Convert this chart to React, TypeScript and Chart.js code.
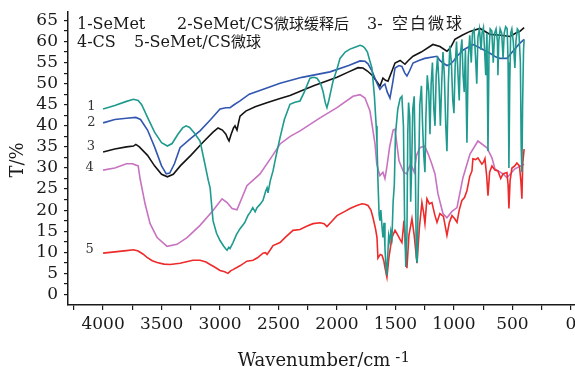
import React, { useEffect, useRef } from "react";
import { Chart, registerables } from "chart.js";
Chart.register(...registerables);

// ---- data: [wavenumber (cm-1), transmittance T (%)] ----
const semet: number[][] = [
  [4000,44],[3900,44.8],[3800,45.8],[3740,46.3],[3700,46],[3670,45],[3620,42],[3560,38.5],[3500,36],[3450,35.2],[3410,35.8],[3360,38],[3320,39.5],[3290,40],[3260,39.6],[3220,38.3],[3171,36.4],[3130,31],[3100,27],[3085,25.3],[3060,17.5],[3030,14.5],[3000,12.8],[2970,11.5],[2950,10.8],[2940,10.5],[2925,11.2],[2915,10.9],[2889,12.3],[2860,14.2],[2829,15.6],[2790,17],[2760,18.8],[2744,19.4],[2720,20.6],[2700,19.6],[2684,20.6],[2660,21.3],[2633,22.3],[2610,24.5],[2598,25.3],[2590,24.1],[2570,27],[2547,29.3],[2520,33],[2487,37.2],[2450,41.5],[2402,45.1],[2360,45.6],[2316,45.9],[2280,48],[2231,51.3],[2200,51.5],[2171,51.3],[2140,50],[2120,48.2],[2100,45.5],[2086,44.3],[2070,46],[2034,50.6],[2000,53.5],[1974,56],[1930,57.5],[1889,58.2],[1840,58.7],[1803,59.1],[1780,58.9],[1761,58.4],[1740,57.5],[1720,55.5],[1701,53.7],[1680,47],[1665,40],[1658,36],[1650,27],[1640,19],[1633,17.5],[1625,20],[1615,16],[1607,13.5],[1598,17],[1590,11],[1580,6],[1575,4.5],[1568,8],[1558,14],[1548,12.5],[1540,15],[1530,13.5],[1520,22],[1510,26],[1500,38],[1480,44],[1460,46.5],[1445,47],[1432,40],[1422,18],[1412,6.5],[1402,14],[1395,38],[1388,45.5],[1378,42],[1370,22],[1362,30],[1352,44],[1340,47],[1330,30],[1322,9],[1314,7.5],[1305,24],[1292,45],[1278,49.5],[1268,40],[1258,33],[1248,29],[1240,42],[1228,52],[1215,48],[1205,38],[1195,50],[1184,55],[1172,44],[1162,40],[1152,52],[1140,56.5],[1128,50],[1116,40],[1105,50],[1094,57.5],[1082,52],[1070,40],[1060,34],[1048,50],[1035,59],[1022,55],[1010,46],[1000,43],[990,54],[978,60],[965,52],[955,46],[945,57],[932,60.5],[922,52],[912,48],[902,58],[889,36],[878,56],[865,61.5],[852,55],[842,62],[828,62.8],[815,56],[805,50],[795,61],[782,63],[768,58],[760,62],[748,63.3],[738,58],[728,52],[718,62],[709,34],[700,58],[690,63],[676,62.5],[664,55],[652,62],[640,63],[628,60],[624,52],[617,60],[605,63],[592,62],[580,56],[570,62],[558,63.5],[545,63],[537,55],[530,30],[523,50],[515,62],[505,63],[493,60],[479,53.7],[470,60],[458,63],[445,62.5],[432,55],[425,35],[419,29],[413,45],[405,58],[400,60.5]
];

const semetCsRelease: number[][] = [
  [4000,40.7],[3900,41.5],[3800,41.8],[3720,42],[3680,41.5],[3620,39],[3560,35],[3500,30.5],[3460,28.6],[3430,28.8],[3390,31],[3342,34.8],[3250,37],[3171,38.8],[3080,41.5],[3000,44],[2950,44.3],[2915,44.3],[2880,45],[2829,45.9],[2750,47.5],[2600,49],[2487,50.1],[2300,51.5],[2060,52.8],[1900,54.3],[1803,55.4],[1760,55.3],[1735,54.7],[1700,53],[1658,50.1],[1633,48.7],[1610,49.5],[1590,49.9],[1570,48],[1547,46.6],[1525,50],[1504,53.7],[1470,54.3],[1445,54.1],[1420,52.5],[1402,51.8],[1380,53],[1350,54.9],[1300,55.5],[1250,56],[1145,56.5],[1120,55.5],[1094,54.9],[1060,54.3],[1034,54.6],[1000,55.5],[974,56.5],[920,58],[838,59.3],[780,58.5],[692,57.2],[640,56.3],[607,56],[547,56],[496,57.7],[440,59.5],[400,60.5]
];

const blankMicro: number[][] = [
  [4000,33.8],[3900,34.5],[3800,35],[3740,35.2],[3720,35.6],[3690,35],[3620,33],[3560,30.5],[3500,28.5],[3450,27.9],[3400,28.5],[3340,30.5],[3250,33],[3150,36],[3060,38.5],[3017,39.5],[2980,39],[2950,38],[2935,37],[2923,36.4],[2905,38],[2885,39.5],[2872,40],[2855,39],[2840,41],[2829,42.3],[2780,43.5],[2700,44.5],[2600,45.5],[2487,46.5],[2402,47.2],[2200,49.5],[2000,51.5],[1900,52.8],[1820,53.8],[1778,53.7],[1740,53],[1700,52],[1660,50.5],[1633,49.4],[1607,51.3],[1585,50.8],[1564,50.6],[1530,53],[1504,54.9],[1460,55.5],[1419,54.6],[1390,55.5],[1350,56.5],[1280,57.5],[1180,59.3],[1120,58.8],[1060,57.7],[1030,58.5],[992,60.5],[930,61.5],[863,62.4],[778,63.1],[740,62.5],[692,61.7],[600,61.5],[521,61.2],[470,62],[436,62.4],[400,63.3]
];

const cs: number[][] = [
  [4000,29.5],[3900,30],[3800,31],[3750,31],[3700,30.5],[3684,27.5],[3641,21.5],[3598,16.8],[3538,13.5],[3453,11.4],[3368,11.9],[3282,13.5],[3171,16.4],[3060,19.9],[2983,22.7],[2940,21.8],[2897,20.4],[2855,20.1],[2770,25.8],[2658,28.6],[2550,33],[2487,35.7],[2400,37.5],[2316,38.8],[2145,41.9],[2000,44.3],[1863,47],[1803,47.4],[1761,46.6],[1718,43.5],[1675,35.7],[1660,31],[1645,29.3],[1633,28.2],[1607,29],[1590,27.5],[1575,30],[1550,35],[1520,39],[1504,39.2],[1470,31.7],[1430,29],[1405,28.6],[1370,31],[1340,29],[1320,33],[1291,34.8],[1250,35.2],[1220,33.3],[1190,31],[1162,28.6],[1137,23.9],[1094,19.2],[1060,18.2],[1017,19.7],[974,20.6],[950,24],[923,27.7],[863,33.3],[795,36.4],[718,34.8],[675,32.4],[650,29.8],[581,28.6],[547,27.7],[479,29.8],[400,30.9]
];

const semetCs: number[][] = [
  [4000,9.8],[3900,10.1],[3800,10.4],[3740,10.6],[3700,10.3],[3660,9.6],[3624,8.8],[3580,8],[3538,7.6],[3480,7.2],[3427,7.1],[3342,7.4],[3231,8.1],[3171,8.1],[3120,7.7],[3085,7.1],[3040,6.4],[3000,5.7],[2960,5.4],[2932,5],[2910,5.6],[2889,5.9],[2830,6.8],[2770,7.9],[2718,8.1],[2680,8.7],[2633,9.8],[2610,9.9],[2598,9.5],[2570,10.6],[2547,11.6],[2487,12.3],[2440,13.6],[2376,15.2],[2316,15.4],[2260,16.2],[2205,16.8],[2145,17],[2110,16.8],[2086,16.1],[2040,17.5],[2000,18.7],[1940,19.6],[1889,20.4],[1830,21.1],[1786,21.5],[1760,21.4],[1735,21.1],[1710,20],[1692,18.2],[1670,15.5],[1658,13.5],[1650,8.6],[1630,9.5],[1615,9.3],[1600,8],[1590,6.4],[1573,4.1],[1555,9],[1530,13.5],[1504,15.2],[1479,14],[1460,13],[1445,12.3],[1427,17.5],[1415,12],[1402,6.2],[1385,14],[1359,18],[1340,14],[1316,7.4],[1295,16],[1274,21.8],[1260,19.5],[1248,16.8],[1231,22.7],[1210,21.5],[1188,21.8],[1165,19],[1145,17.1],[1120,19.2],[1090,18.5],[1060,14],[1040,17],[1017,18.7],[995,18],[974,17.1],[955,20],[932,22.3],[910,23],[889,24.6],[865,28],[846,29.3],[838,32.2],[815,32],[795,32.4],[775,31.5],[761,30.9],[745,31.5],[735,32.2],[720,28],[709,23.4],[695,29],[675,30.5],[650,29.5],[624,29.3],[600,27.5],[581,28.6],[560,28.8],[547,28.9],[537,26],[530,20.4],[520,27],[504,30],[480,30.5],[462,31.2],[440,30.5],[428,27],[419,22.7],[412,31],[400,34.5]
];

const xTickValues = [0,250,500,750,1000,1250,1500,1750,2000,2250,2500,2750,3000,3250,3500,3750,4000,4250];
const yTickValues = [0,2.5,5,7.5,10,12.5,15,17.5,20,22.5,25,27.5,30,32.5,35,37.5,40,42.5,45,47.5,50,52.5,55,57.5,60,62.5,65];

const curveLabels = [
  { text: "1", x: 4100, y: 44.5 },
  { text: "2", x: 4100, y: 40.7 },
  { text: "3", x: 4105, y: 35 },
  { text: "4", x: 4115, y: 30.1 },
  { text: "5", x: 4115, y: 10.6 },
];

const colors = {
  teal: "#1f9a8f",
  blue: "#3257b0",
  black: "#141414",
  pink: "#c773c0",
  red: "#ee2a2a",
};

const SERIF = "'DejaVu Serif', serif";
const CJK = "'Noto Sans CJK SC', sans-serif";

function drawMixed(ctx: CanvasRenderingContext2D, text: string, x: number, y: number, size: number, cjkSize: number, cjkSpacing = 0) {
  let cx = x;
  for (const ch of text) {
    const isCjk = ch.charCodeAt(0) > 0x2e80;
    ctx.font = isCjk ? `${cjkSize}px ${CJK}` : `${size}px ${SERIF}`;
    ctx.fillText(ch, cx, y);
    cx += ctx.measureText(ch).width + (isCjk ? cjkSpacing : 0);
  }
  return cx;
}

const textPlugin = {
  id: "texts",
  afterDraw(chart: any) {
    const ctx: CanvasRenderingContext2D = chart.ctx;
    const xs = chart.scales.x;
    const ys = chart.scales.y;
    ctx.save();
    ctx.fillStyle = "#1a1a1a";
    ctx.textAlign = "left";
    ctx.textBaseline = "alphabetic";
    // legend lines
    drawMixed(ctx, "1-SeMet", 77, 29, 16, 15);
    drawMixed(ctx, "2-SeMet/CS微球缓释后", 177, 29, 16, 15);
    drawMixed(ctx, "3-", 367, 29, 16, 15);
    drawMixed(ctx, "空白微球", 392, 29, 16, 16, 2);
    drawMixed(ctx, "4-CS", 77, 47, 16, 15);
    drawMixed(ctx, "5-SeMet/CS微球", 134, 47, 16, 15);

    // curve numbers
    ctx.font = `13px ${SERIF}`;
    ctx.textAlign = "center";
    ctx.textBaseline = "middle";
    ctx.fillStyle = "#333";
    for (const l of curveLabels) {
      ctx.fillText(l.text, xs.getPixelForValue(l.x), ys.getPixelForValue(l.y));
    }

    // y title
    ctx.fillStyle = "#1a1a1a";
    ctx.save();
    ctx.translate(18, 160);
    ctx.rotate(-Math.PI / 2);
    ctx.font = `18px ${SERIF}`;
    ctx.textAlign = "center";
    ctx.textBaseline = "middle";
    ctx.fillText("T/%", 0, 0);
    ctx.restore();

    // x title
    ctx.textAlign = "left";
    ctx.textBaseline = "alphabetic";
    ctx.font = `18px ${SERIF}`;
    const main = "Wavenumber/cm";
    const w = ctx.measureText(main).width;
    const left = 314 - w / 2;
    ctx.fillText(main, left, 366);
    ctx.font = `15px ${SERIF}`;
    ctx.fillText("-1", left + w + 5, 362);
    ctx.restore();
  },
};

export default function App() {
  const ref = useRef<HTMLCanvasElement>(null);
  useEffect(() => {
    const toXY = (arr: number[][]) => arr.map(([x, y]) => ({ x, y }));
    const chart = new Chart(ref.current as HTMLCanvasElement, {
      type: "line",
      data: {
        datasets: [
          { data: toXY(semet), borderColor: colors.teal },
          { data: toXY(semetCsRelease), borderColor: colors.blue },
          { data: toXY(blankMicro), borderColor: colors.black },
          { data: toXY(semetCs), borderColor: colors.red },
          { data: toXY(cs), borderColor: colors.pink },
        ] as any,
      },
      options: {
        responsive: false,
        animation: false,
        layout: { padding: { top: 12, left: 0, right: 0, bottom: 0 } },
        plugins: { legend: { display: false }, tooltip: { enabled: false } },
        elements: { point: { radius: 0 }, line: { borderWidth: 1.6, tension: 0 } },
        scales: {
          x: {
            type: "linear",
            reverse: true,
            min: -35,
            max: 4300,
            afterBuildTicks: (s: any) => {
              s.ticks = xTickValues.map((v) => ({ value: v }));
            },
            afterFit: (s: any) => {
              s.height = 62;
              s.paddingLeft = 0;
              s.paddingRight = 0;
            },
            ticks: {
              autoSkip: false,
              maxRotation: 0,
              padding: 4,
              color: "#1a1a1a",
              font: { family: SERIF, size: 17 },
              callback: (v: any) => (Number(v) % 500 === 0 ? String(v) : ""),
            },
            grid: { drawOnChartArea: false, drawTicks: true, tickLength: 5, color: "#1a1a1a", lineWidth: 1.2 },
            border: { display: true, color: "#1a1a1a", width: 1.5 },
          },
          y: {
            type: "linear",
            min: -2.5,
            max: 67,
            afterBuildTicks: (s: any) => {
              s.ticks = yTickValues.map((v) => ({ value: v }));
            },
            afterFit: (s: any) => {
              s.width = 68;
              s.paddingTop = 0;
              s.paddingBottom = 0;
            },
            ticks: {
              autoSkip: false,
              padding: 6,
              color: "#1a1a1a",
              font: { family: SERIF, size: 17 },
              callback: (v: any) => (Number(v) % 5 === 0 ? String(v) : ""),
            },
            grid: { drawOnChartArea: false, drawTicks: true, tickLength: 4, color: "#1a1a1a", lineWidth: 1.2 },
            border: { display: true, color: "#1a1a1a", width: 1.5 },
          },
        },
      } as any,
      plugins: [textPlugin],
    });
    return () => chart.destroy();
  }, []);
  return (
    <div style={{ position: "fixed", left: 0, top: 0, width: 575, height: 367, background: "#fff" }}>
      <canvas ref={ref} width={575} height={367} style={{ width: 575, height: 367, display: "block" }} />
    </div>
  );
}
